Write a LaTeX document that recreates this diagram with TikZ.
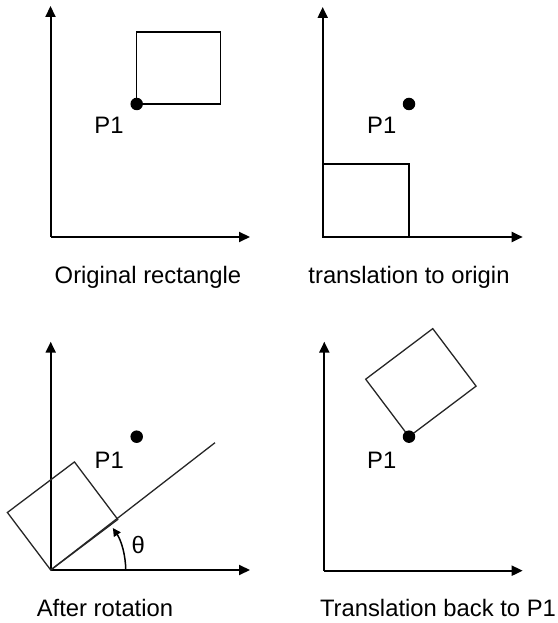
\documentclass[tikz,border=0pt]{standalone}
\usepackage{fontspec}
\setmainfont{Liberation Sans}
\usetikzlibrary{arrows.meta}
\begin{document}
\begin{tikzpicture}[x=1pt,y=1pt,
  axis/.style={line width=2pt,-{Triangle[length=11pt,width=10pt]}},
  rect/.style={line width=1.5pt,line join=miter},
  thinline/.style={line width=1.3pt,draw=black!85},
  pdot/.style={circle,fill=black,inner sep=0pt,minimum size=12.5pt},
  lbl/.style={font=\fontsize{23.8}{28}\selectfont,inner sep=0pt}]
\useasboundingbox (0,0) rectangle (557,623);
% ---------- panel 1
\coordinate (O1) at (50.5,386);
\coordinate (Y1) at (50.5,617);
\coordinate (X1) at (250,386);
\draw[axis] (O1) -- (Y1);
\draw[axis] (O1) -- (X1);
\draw[rect] (136.7,519) rectangle (220.7,591);
\node[pdot] (d1) at (136.7,519) {};
\node[lbl] (p1a) at (109,498) {P1};
\node[lbl] (c1) at (148,346) {Original rectangle};
% ---------- panel 2
\coordinate (O2) at (322.7,386);
\coordinate (Y2) at (322.7,616);
\coordinate (X2) at (522.7,386);
\draw[axis] (O2) -- (Y2);
\draw[axis] (O2) -- (X2);
\draw[rect] (322.7,386) rectangle (409,459);
\node[pdot] (d2) at (409,519) {};
\node[lbl] (p1b) at (381.7,498) {P1};
\node[lbl] (c2) at (409,346) {translation to origin};
% ---------- panel 3
\coordinate (O3) at (50.7,53);
\coordinate (Y3) at (50.7,281.3);
\coordinate (X3) at (250,53);
\coordinate (L3) at (215,180.3);
\draw[axis] (O3) -- (Y3);
\draw[axis] (O3) -- (X3);
\draw[thinline] (O3) -- (L3);
\draw[thinline,line join=miter] (O3) -- ++(37:84) -- ++(127:72) -- ++(217:84) -- cycle;
\node[pdot] (d3) at (136.7,186.3) {};
\node[lbl] (p1c) at (109.3,163) {P1};
\draw[line width=1.5pt,-{Triangle[length=8pt,width=8pt]}] (O3) ++(75,0) arc[start angle=0,end angle=34,radius=75];
\node[lbl] (th) at (138.3,78) {θ};
\node[lbl] (c3) at (105,15) {After rotation};
% ---------- panel 4
\coordinate (O4) at (324.3,52.3);
\coordinate (Y4) at (324.3,281.3);
\coordinate (X4) at (522.7,52.3);
\draw[axis] (O4) -- (Y4);
\draw[axis] (O4) -- (X4);
\coordinate (P4) at (409,186.3);
\draw[thinline,line join=miter] (P4) -- ++(37:84) -- ++(127:72) -- ++(217:84) -- cycle;
\node[pdot] (d4) at (P4) {};
\node[lbl] (p1d) at (381.7,163) {P1};
\node[lbl] (c4) at (438,15) {Translation back to P1};
\end{tikzpicture}
\end{document}
